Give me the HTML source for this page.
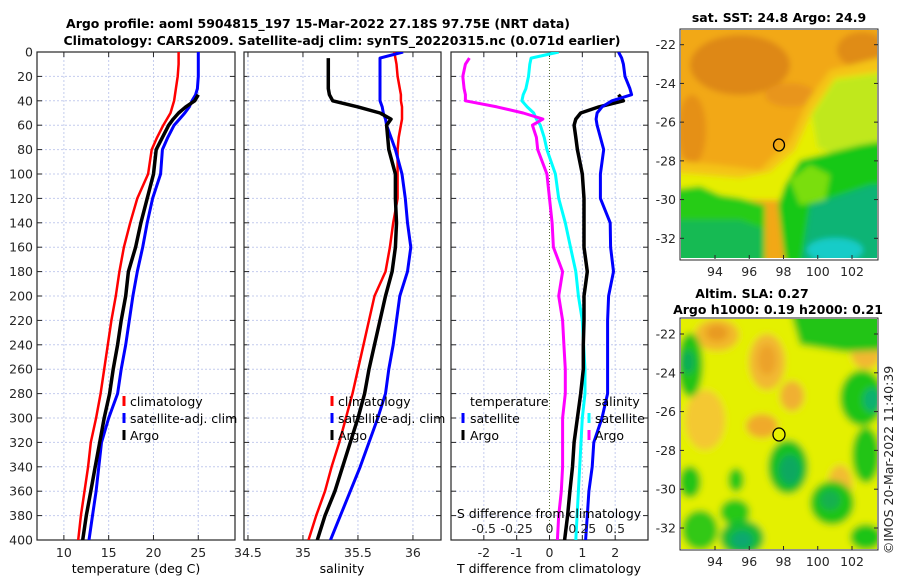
<!DOCTYPE html>
<html><head><meta charset="utf-8"><style>
body{margin:0;background:#fff;}
svg{display:block;font-family:"DejaVu Sans","Liberation Sans",sans-serif;}
.tk{font-size:12.5px;fill:#262626;}
.ttl{font-size:12.5px;font-weight:bold;fill:#000;}
.lg{font-size:12.5px;fill:#000;}
</style></head><body>
<svg id="fig" width="900" height="580" viewBox="0 0 900 580">
<defs>
<filter id="bl" x="-5%" y="-5%" width="110%" height="110%"><feGaussianBlur stdDeviation="3"/></filter>
<filter id="bl2" x="-5%" y="-5%" width="110%" height="110%"><feGaussianBlur stdDeviation="3.5"/></filter>
<clipPath id="c1"><rect x="681" y="30" width="196" height="228"/></clipPath>
<clipPath id="c2"><rect x="681" y="319" width="196" height="230"/></clipPath>
<clipPath id="p1"><rect x="37" y="52" width="198" height="488"/></clipPath>
<clipPath id="p2"><rect x="244" y="52" width="197" height="488"/></clipPath>
<clipPath id="p3"><rect x="451" y="52" width="197" height="488"/></clipPath>
</defs>
<text class="ttl" x="318" y="28" text-anchor="middle">Argo profile: aoml 5904815_197 15-Mar-2022 27.18S 97.75E (NRT data)</text>
<text class="ttl" x="342" y="45" text-anchor="middle">Climatology: CARS2009. Satellite-adj clim: synTS_20220315.nc (0.071d earlier)</text>

<g>
<g clip-path="url(#c1)"><g filter="url(#bl)">
<rect x="670" y="20" width="220" height="250" fill="#f2a814"/>
<ellipse cx="740" cy="65" rx="50" ry="30" fill="#de8818"/>
<ellipse cx="862" cy="50" rx="25" ry="18" fill="#e08c18"/>
<ellipse cx="692" cy="130" rx="14" ry="35" fill="#e59018"/>
<ellipse cx="790" cy="95" rx="25" ry="12" fill="#e8951a"/>
<polygon points="670,160 720,165 760,170 790,140 808,100 830,70 890,55 890,200 670,200" fill="#f4c414"/>
<polygon points="670,172 740,178 770,172 795,150 812,112 835,78 890,70 890,200 670,200" fill="#e6ee00"/>
<polygon points="812,115 835,80 890,72 890,150 850,158 818,148" fill="#c0e81a"/>
<polygon points="670,190 700,186 720,195 740,198 765,205 765,270 670,270" fill="#28cc14"/>
<polygon points="785,185 800,160 860,145 890,140 890,270 786,270 778,205" fill="#18c816"/>
<polygon points="790,180 810,165 830,175 825,200 800,205" fill="#7ade10"/>
<polygon points="670,220 740,220 762,228 762,270 670,270" fill="#12ba52"/>
<polygon points="810,205 870,185 890,185 890,270 800,270" fill="#0cb474"/>
<ellipse cx="835" cy="250" rx="28" ry="12" fill="#18ccc8"/>
</g></g>
<rect x="680" y="29" width="198" height="231" fill="none" stroke="#262626" stroke-width="1"/>
<ellipse cx="779" cy="145" rx="5.5" ry="6" fill="none" stroke="#000" stroke-width="1.3"/>
</g>
<text class="ttl" x="779" y="22" text-anchor="middle">sat. SST: 24.8 Argo: 24.9</text>

<g>
<g clip-path="url(#c2)"><g filter="url(#bl2)">
<rect x="670" y="310" width="220" height="250" fill="#e4f000"/>
<ellipse cx="717" cy="335" rx="22" ry="16" fill="#f2b82a"/>
<ellipse cx="717" cy="333" rx="11" ry="8" fill="#e89a24"/>
<ellipse cx="767" cy="362" rx="18" ry="28" fill="#f2b830"/>
<ellipse cx="767" cy="360" rx="9" ry="15" fill="#eca22a"/>
<ellipse cx="792" cy="396" rx="12" ry="15" fill="#f0b030"/>
<ellipse cx="762" cy="426" rx="16" ry="12" fill="#f0aa2c"/>
<ellipse cx="705" cy="420" rx="20" ry="30" fill="#f4c830"/>
<ellipse cx="840" cy="485" rx="12" ry="20" fill="#f2bc30"/>
<ellipse cx="866" cy="352" rx="15" ry="17" fill="#f2b830"/>
<ellipse cx="690" cy="365" rx="13" ry="32" fill="#22c418"/>
<ellipse cx="688" cy="362" rx="7" ry="12" fill="#10ae55"/>
<polygon points="790,310 890,310 890,350 845,352 800,345" fill="#22c418"/>
<ellipse cx="862" cy="398" rx="22" ry="28" fill="#1ec418"/>
<ellipse cx="872" cy="400" rx="9" ry="12" fill="#10b070"/>
<ellipse cx="788" cy="467" rx="20" ry="27" fill="#18c020"/>
<ellipse cx="790" cy="470" rx="11" ry="15" fill="#0ea860"/>
<ellipse cx="690" cy="482" rx="11" ry="16" fill="#22c418"/>
<ellipse cx="736" cy="480" rx="8" ry="12" fill="#28c818"/>
<ellipse cx="735" cy="512" rx="15" ry="13" fill="#28c818"/>
<ellipse cx="742" cy="538" rx="22" ry="18" fill="#14bc30"/>
<ellipse cx="742" cy="540" rx="11" ry="9" fill="#0ea870"/>
<ellipse cx="832" cy="503" rx="22" ry="22" fill="#1ec418"/>
<ellipse cx="830" cy="500" rx="10" ry="10" fill="#12b050"/>
<ellipse cx="866" cy="455" rx="14" ry="28" fill="#22c418"/>
<ellipse cx="866" cy="537" rx="16" ry="13" fill="#1ec418"/>
<ellipse cx="700" cy="530" rx="18" ry="20" fill="#30c818"/>
</g></g>
<rect x="680" y="318" width="198" height="232" fill="none" stroke="#262626" stroke-width="1"/>
<ellipse cx="779" cy="434.5" rx="6" ry="6.5" fill="#e8f000" stroke="#000" stroke-width="1.3"/>
</g>
<text class="ttl" x="752" y="298" text-anchor="middle">Altim. SLA: 0.27</text>
<text class="ttl" x="778" y="314" text-anchor="middle">Argo h1000: 0.19 h2000: 0.21</text>
<text class="tk" transform="translate(893,460) rotate(-90)" text-anchor="middle">©IMOS 20-Mar-2022 11:40:39</text>
<g id="axes"></g>
</svg>
<script>
const depths = [0,5,10,20,30,35,40,45,50,55,60,70,80,100,120,140,160,180,200,220,240,260,280,300,320,340,360,380,400];
const tClim = [22.8,22.8,22.8,22.7,22.5,22.4,22.3,22.1,21.9,21.5,21.1,20.4,19.8,19.4,18.2,17.4,16.7,16.2,15.8,15.3,14.9,14.5,14.1,13.6,13.0,12.7,12.3,11.9,11.6];
const tSat = [25.0,25.0,25.0,25.0,24.9,24.7,24.3,24.0,23.5,22.9,22.3,21.6,21.0,20.8,19.9,19.3,18.8,18.2,17.7,17.3,16.9,16.4,16.0,15.0,14.2,13.9,13.6,13.2,12.8];
const tArgo = [null,null,null,null,null,25.0,24.6,23.6,22.8,22.2,21.7,21.0,20.3,20.0,19.3,18.6,18.0,17.2,16.9,16.4,16.0,15.5,15.1,14.5,14.0,13.5,13.0,12.5,12.1];
const sClim = [35.83,35.84,35.85,35.86,35.88,35.89,35.89,35.9,35.9,35.9,35.89,35.87,35.86,35.86,35.86,35.82,35.79,35.75,35.65,35.6,35.55,35.5,35.45,35.39,35.33,35.26,35.2,35.12,35.05];
const sSat = [35.91,35.70,35.70,35.70,35.70,35.70,35.70,35.72,35.73,35.75,35.76,35.80,35.84,35.90,35.93,35.95,35.98,35.95,35.88,35.85,35.82,35.78,35.75,35.68,35.6,35.52,35.43,35.34,35.25];
const sArgo = [null,35.23,35.23,35.23,35.23,35.24,35.27,35.5,35.7,35.8,35.76,35.77,35.78,35.84,35.84,35.85,35.84,35.81,35.75,35.7,35.65,35.6,35.56,35.5,35.43,35.36,35.29,35.2,35.13];
const dTSat = [2.1,2.2,2.25,2.3,2.45,2.5,1.9,1.6,1.45,1.42,1.45,1.55,1.65,1.55,1.55,1.85,1.86,1.95,1.8,1.77,1.77,1.77,1.77,1.6,1.35,1.3,1.2,1.15,1.1];
const dTArgo = [null,null,null,null,null,2.1,2.25,1.5,0.95,0.8,0.75,0.8,0.85,1.0,1.05,1.05,1.05,1.15,1.05,1.05,1.03,1.03,0.95,0.85,0.75,0.7,0.62,0.55,0.46];
const dSSat = [0.07,-0.14,-0.15,-0.16,-0.18,-0.2,-0.21,-0.17,-0.12,-0.1,-0.07,-0.04,-0.02,0.045,0.07,0.12,0.16,0.2,0.22,0.25,0.26,0.27,0.27,0.25,0.24,0.23,0.22,0.21,0.2];
const dSArgo = [null,-0.61,-0.64,-0.66,-0.65,-0.64,-0.64,-0.4,-0.2,-0.05,-0.13,-0.1,-0.09,-0.02,0,0.02,0.03,0.1,0.07,0.1,0.11,0.12,0.12,0.1,0.1,0.1,0.09,0.07,0.06];
const depthTicks = [0,20,40,60,80,100,120,140,160,180,200,220,240,260,280,300,320,340,360,380,400];
const tTicks = [10,15,20,25];
const sTicks = [34.5,35,35.5,36];
const dTTicks = [-2,-1,0,1,2];
const dSTicks = [-0.5,-0.25,0,0.25,0.5];
const dSTickLabels = ['-0.5','-0.25','0','0.25','0.5'];
const lonTicks = [94,96,98,100,102];
const latTicks = [-22,-24,-26,-28,-30,-32];

const NS='http://www.w3.org/2000/svg';
const root=document.getElementById('axes');
function mk(tag,attrs,parent){const e=document.createElementNS(NS,tag);for(const k in attrs)e.setAttribute(k,attrs[k]);(parent||root).appendChild(e);return e;}
const Y0=52,Y1=540;
const yS=d=>Y0+(d/400)*(Y1-Y0);
function lin(d0,d1,r0,r1){return v=>r0+(v-d0)/(d1-d0)*(r1-r0);}
const panels=[
 {x0:37,x1:235,sx:lin(7,29.1,37,235),ticks:tTicks,clip:'p1',name:'temperature-panel'},
 {x0:244,x1:441,sx:lin(34.464,36.255,244,441),ticks:sTicks,clip:'p2',name:'salinity-panel'},
 {x0:451,x1:648,sx:lin(-3,3,451,648),ticks:dTTicks,clip:'p3',name:'difference-panel'}
];
const sxS=lin(-0.75,0.75,451,648);
panels.forEach((p,i)=>{
 const g=mk('g',{});
 
 
 depthTicks.forEach(d=>{const l=mk('line',{x1:p.x0,x2:p.x1,y1:yS(d),y2:yS(d),stroke:'#c4ccee','stroke-width':1,'stroke-dasharray':'2,2'},g);
  
  mk('line',{x1:p.x0,x2:p.x0+5,y1:yS(d),y2:yS(d),stroke:'#262626'},g);
  mk('line',{x1:p.x1-5,x2:p.x1,y1:yS(d),y2:yS(d),stroke:'#262626'},g);});
 p.ticks.forEach(t=>{const x=p.sx(t);if(x<p.x0||x>p.x1)return;
  const gl=mk('line',{x1:x,x2:x,y1:Y0,y2:Y1,stroke:(i==2&&t==0)?'#556b2f':'#c4ccee','stroke-width':1,'stroke-dasharray':(i==2&&t==0)?'1,2':'2,2'},g);
  
  mk('line',{x1:x,x2:x,y1:Y1,y2:Y1-5,stroke:'#262626'},g);
  mk('line',{x1:x,x2:x,y1:Y0,y2:Y0+5,stroke:'#262626'},g);});
 p.ticks.forEach(t=>{const x=p.sx(t);const tx=mk('text',{x:x,y:557,'text-anchor':'middle',class:'tk'},g);tx.textContent=String(t);
  });
 mk('rect',{x:p.x0,y:Y0,width:p.x1-p.x0,height:Y1-Y0,fill:'none',stroke:'#262626','stroke-width':1.2},g);
});
depthTicks.forEach(d=>{const t=mk('text',{x:33,y:yS(d)+4.5,'text-anchor':'end',class:'tk'});t.textContent=String(d);
 });
function series(vals,sx,color,clip,name,w){
 let d='';let pen=false;
 vals.forEach((v,i)=>{if(v===null){pen=false;return;}d+=(pen?'L':'M')+sx(v).toFixed(1)+','+yS(depths[i]).toFixed(1);pen=true;});
 const p=mk('path',{d:d,fill:'none',stroke:color,'stroke-width':w||3,'stroke-linejoin':'round','clip-path':'url(#'+clip+')'});
 
 
}
series(tClim,panels[0].sx,'#ff0000','p1','temperature-climatology-line',2.5);
series(tSat,panels[0].sx,'#0000ff','p1','temperature-satellite-line',3);
series(tArgo,panels[0].sx,'#000','p1','temperature-argo-line',3.5);
series(sClim,panels[1].sx,'#ff0000','p2','salinity-climatology-line',2.5);
series(sSat,panels[1].sx,'#0000ff','p2','salinity-satellite-line',3);
series(sArgo,panels[1].sx,'#000','p2','salinity-argo-line',3.5);
series(dSSat,sxS,'#00ffff','p3','salinity-satellite-diff-line',3);
series(dSArgo,sxS,'#ff00ff','p3','salinity-argo-diff-line',3);
series(dTArgo,panels[2].sx,'#000','p3','temperature-argo-diff-line',3.5);
series(dTSat,panels[2].sx,'#0000ff','p3','temperature-satellite-diff-line',3);
dSTicks.forEach((s,i)=>{const t=mk('text',{x:sxS(s),y:533,'text-anchor':'middle',class:'tk'});t.textContent=dSTickLabels[i];
 });
function txt(x,y,s,name,anchor,cls){const t=mk('text',{x:x,y:y,'text-anchor':anchor||'start',class:cls||'lg'});t.textContent=s;
 return t;}
txt(549,518,'S difference from climatology','s-diff-axis-title','middle','lg');
txt(136,573,'temperature (deg C)','temperature-axis-title','middle','lg');
txt(342,573,'salinity','salinity-axis-title','middle','lg');
txt(549,573,'T difference from climatology','t-diff-axis-title','middle','lg');
function legend(mx,tx,y,color,label,name){const l=mk('line',{x1:mx,x2:mx,y1:y-10,y2:y,stroke:color,'stroke-width':3});
 txt(tx,y,label,name+'-label');}
legend(124,130,406,'#ff0000','climatology','temp-legend-climatology');
legend(124,130,423,'#0000ff','satellite-adj. clim','temp-legend-satellite');
legend(124,130,440,'#000','Argo','temp-legend-argo');
legend(332,338,406,'#ff0000','climatology','sal-legend-climatology');
legend(332,338,423,'#0000ff','satellite-adj. clim','sal-legend-satellite');
legend(332,338,440,'#000','Argo','sal-legend-argo');
txt(470,406,'temperature','diff-legend-temperature-header');
legend(463,470,423,'#0000ff','satellite','diff-legend-t-satellite');
legend(463,470,440,'#000','Argo','diff-legend-t-argo');
txt(595,406,'salinity','diff-legend-salinity-header');
legend(589,595,423,'#00ffff','satellite','diff-legend-s-satellite');
legend(589,595,440,'#ff00ff','Argo','diff-legend-s-argo');
const lonX=lin(94,102,715,852);
const latY1=lin(-22,-32,44.7,238.3), latY2=lin(-22,-32,334,528);
[[30,258,latY1,276],[319,549,latY2,566]].forEach(([top,bot,ly,lab])=>{
 lonTicks.forEach(v=>{const x=lonX(v);mk('line',{x1:x,x2:x,y1:bot+1,y2:bot-3,stroke:'#262626'});
  txt(x,lab,String(v),'lon-tick-label','middle','tk');});
 latTicks.forEach(v=>{const y=ly(v);mk('line',{x1:680,x2:684,y1:y,y2:y,stroke:'#262626'});mk('line',{x1:874,x2:878,y1:y,y2:y,stroke:'#262626'});
  txt(676,y+4.5,String(v),'lat-tick-label','end','tk');});
});
</script>
</body></html>
